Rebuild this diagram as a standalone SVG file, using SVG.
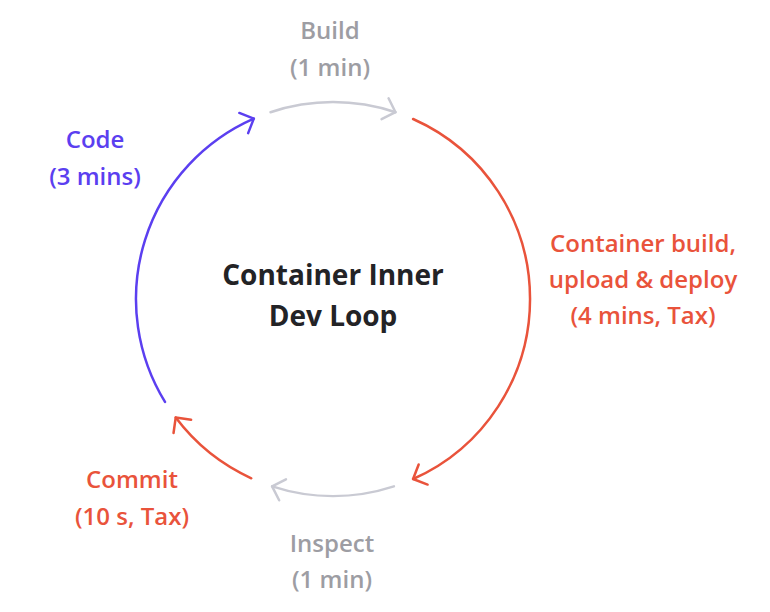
<svg xmlns="http://www.w3.org/2000/svg" width="770" height="612" viewBox="0 0 770 612">
<style>
.lbl{font-family:"Open Sans","Noto Sans",sans-serif;font-weight:600;font-size:24px;text-anchor:middle}
.title{font-family:"Open Sans","Noto Sans",sans-serif;font-weight:700;font-size:28px;text-anchor:middle;fill:#232326}
.gray{fill:#9d9da3}
.red{fill:#e9533b}
.blue{fill:#5b3ff0}
.arc{fill:none;stroke-width:2.5;stroke-linecap:round}
</style>
<defs>
<marker id="mBlue" markerUnits="userSpaceOnUse" markerWidth="30" markerHeight="30" refX="0" refY="0" viewBox="-15 -15 30 30" orient="auto" overflow="visible">
<path d="M-11,-11 L0,0 L-11,11" fill="none" stroke="#5b3ff0" stroke-width="2.5" stroke-linecap="round" stroke-linejoin="round"/>
</marker>
<marker id="mRed" markerUnits="userSpaceOnUse" markerWidth="30" markerHeight="30" refX="0" refY="0" viewBox="-15 -15 30 30" orient="auto" overflow="visible">
<path d="M-11,-11 L0,0 L-11,11" fill="none" stroke="#e9533b" stroke-width="2.5" stroke-linecap="round" stroke-linejoin="round"/>
</marker>
<marker id="mGray" markerUnits="userSpaceOnUse" markerWidth="30" markerHeight="30" refX="0" refY="0" viewBox="-15 -15 30 30" orient="auto" overflow="visible">
<path d="M-11,-11 L0,0 L-11,11" fill="none" stroke="#c9cad3" stroke-width="2.5" stroke-linecap="round" stroke-linejoin="round"/>
</marker>
</defs>
<rect width="770" height="612" fill="#ffffff"/>
<g id="connectors">
<path id="arc-code" class="arc" stroke="#5b3ff0" d="M165,401.9 A197,197 0 0 1 253.8,118.6" marker-end="url(#mBlue)"/>
<path id="arc-build" class="arc" stroke="#c9cad3" d="M270.5,112.2 A197,197 0 0 1 395.5,112.2" marker-end="url(#mGray)"/>
<path id="arc-deploy" class="arc" stroke="#e9533b" d="M413.1,119 A197,197 0 0 1 413.1,479" marker-end="url(#mRed)"/>
<path id="arc-inspect" class="arc" stroke="#c9cad3" d="M393.9,486.4 A197,197 0 0 1 272.1,486.4" marker-end="url(#mGray)"/>
<path id="arc-commit" class="arc" stroke="#e9533b" d="M251.3,478.3 A197,197 0 0 1 175.7,417.6" marker-end="url(#mRed)"/>
</g>
<g id="center">
<text class="title" x="333" y="285">Container Inner</text>
<text class="title" x="333" y="326">Dev Loop</text>
</g>
<g id="build">
<text class="lbl gray" x="330" y="39">Build</text>
<text class="lbl gray" x="330" y="76">(1 min)</text>
</g>
<g id="deploy">
<text class="lbl red" x="643" y="252">Container build,</text>
<text class="lbl red" x="643" y="288">upload &amp; deploy</text>
<text class="lbl red" x="643" y="324">(4 mins, Tax)</text>
</g>
<g id="inspect">
<text class="lbl gray" x="332" y="552">Inspect</text>
<text class="lbl gray" x="332" y="588">(1 min)</text>
</g>
<g id="commit">
<text class="lbl red" x="132" y="488">Commit</text>
<text class="lbl red" x="132" y="525">(10 s, Tax)</text>
</g>
<g id="code">
<text class="lbl blue" x="95" y="148">Code</text>
<text class="lbl blue" x="95" y="185">(3 mins)</text>
</g>
</svg>
